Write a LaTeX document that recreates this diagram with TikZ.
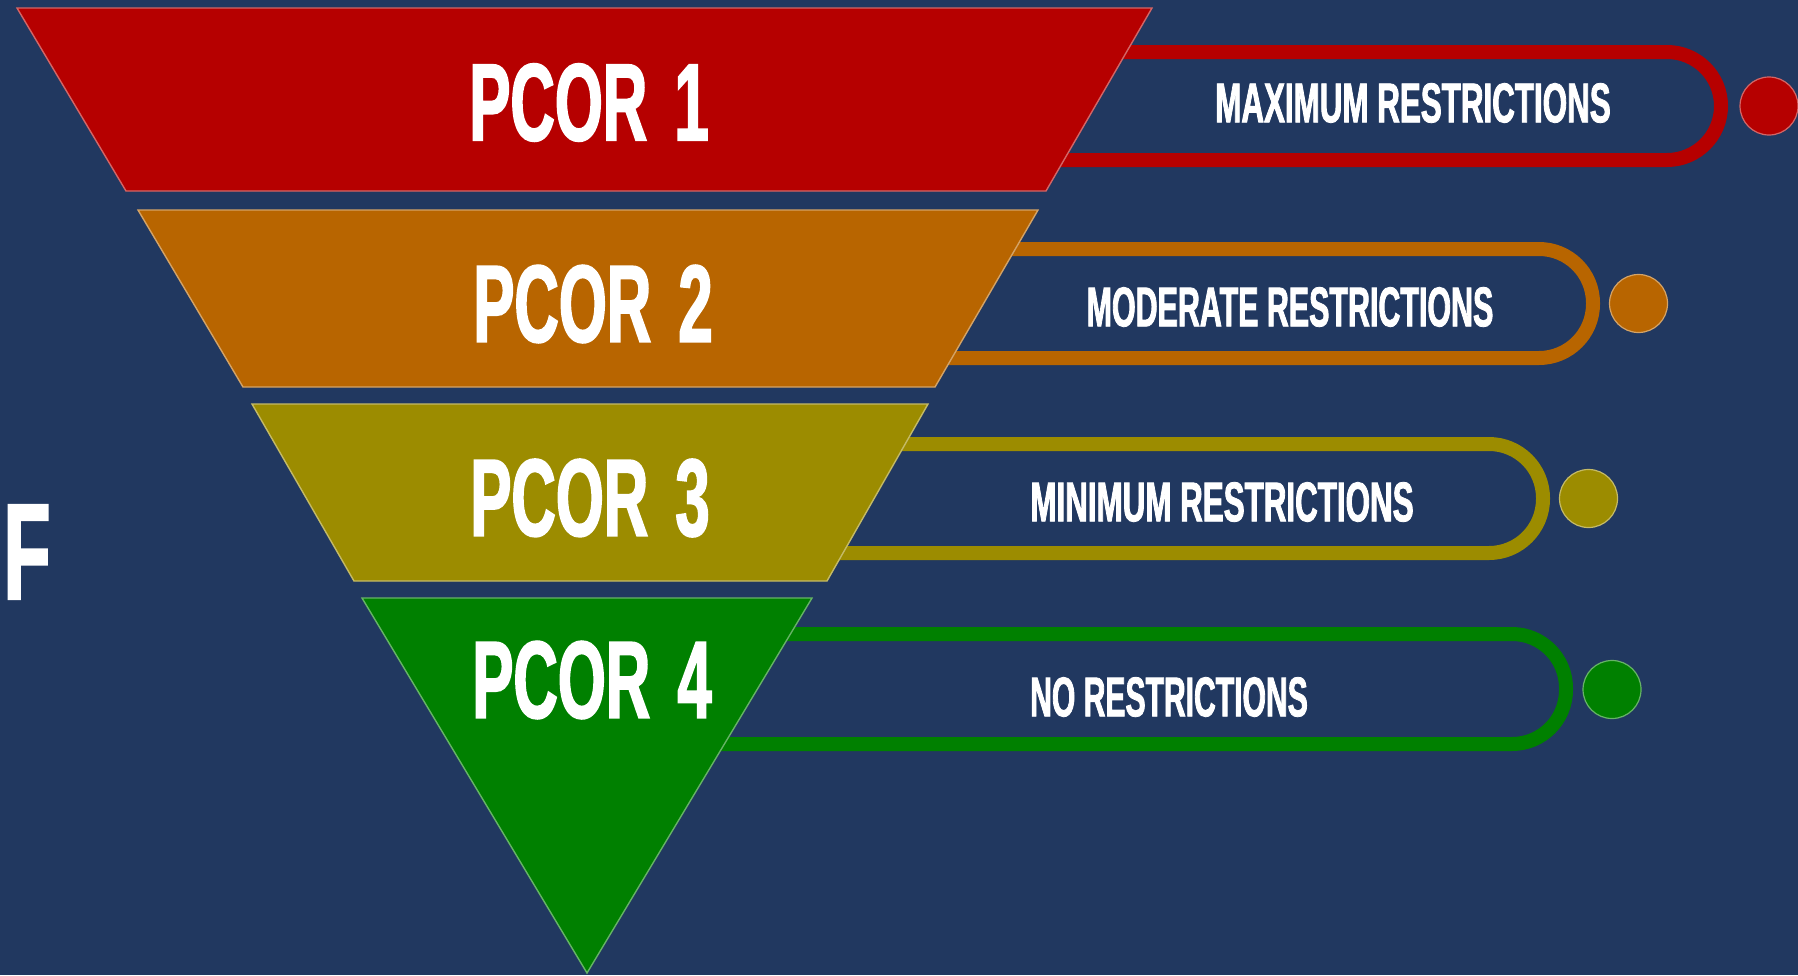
\documentclass[tikz,border=0pt]{standalone}
\usepackage{graphicx}
\usepackage{fontspec}
\newfontfamily\cond[FakeStretch=0.56,FakeBold=1.5]{Liberation Sans Bold}
\definecolor{bg}{RGB}{33,56,96}
\definecolor{cred}{RGB}{182,0,0}
\definecolor{corange}{RGB}{184,101,0}
\definecolor{colive}{RGB}{156,140,0}
\definecolor{cgreen}{RGB}{0,128,0}
\newcommand{\gap}{\ \hspace{5pt}}
\begin{document}
\begin{tikzpicture}[x=0.5pt,y=-0.5pt,
  band/.style={draw=#1, line width=7pt, fill=bg, rounded corners=27pt},
  tier/.style={fill=#1, draw=#1!60!white, line width=0.7pt, line join=miter},
  dot/.style={fill=#1, draw=#1!60!white, line width=0.6pt},
  big/.style={text=white, inner sep=0pt, font=\cond\fontsize{55pt}{55pt}\selectfont},
  lab/.style={text=white, inner sep=0pt, font=\cond\fontsize{28pt}{28pt}\selectfont}]
\useasboundingbox (0,0) rectangle (1798,975);
\fill[bg] (0,0) rectangle (1798,975);

% bands (behind the tiers)
\draw[band=cred]    (590,52)  rectangle (1721,160);
\draw[band=corange] (590,249) rectangle (1593,358);
\draw[band=colive]  (590,444) rectangle (1543,553);
\draw[band=cgreen]  (590,634) rectangle (1566,744);

% dots
\fill[dot=cred]    (1769,106) circle[radius=14.5pt];
\fill[dot=corange] (1638.5,303.5) circle[radius=14.5pt];
\draw[dot=colive]  (1588.5,498.5) circle[radius=14.5pt];
\draw[dot=cgreen]  (1612,689.5) circle[radius=14.5pt];

% tiers
\draw[tier=cred]    (17,8) -- (1152,8) -- (1046,191) -- (126,191) -- cycle;
\draw[tier=corange] (138,210) -- (1038,210) -- (935,387) -- (243,387) -- cycle;
\draw[tier=colive]  (252,404) -- (928,404) -- (827,581) -- (354,581) -- cycle;
\draw[tier=cgreen]  (362,598) -- (812,598) -- (587,973) -- cycle;

% tier titles
\node[big] (p1) at (589,102.5) {PCOR\gap 1};
\node[big] (p2) at (593,304) {PCOR\gap 2};
\node[big] (p3) at (590,498) {PCOR\gap 3};
\node[big] (p4) at (592,680) {PCOR\gap 4};

% band labels
\node[lab] (l1) at (1413,103) {MAXIMUM RESTRICTIONS};
\node[lab] (l2) at (1290,307) {\scalebox{0.97}[1]{MODERATE RESTRICTIONS}};
\node[lab] (l3) at (1222,502) {MINIMUM RESTRICTIONS};
\node[lab] (l4) at (1169,697) {\scalebox{0.96}[1]{NO RESTRICTIONS}};

% stray letter
\node[text=white, inner sep=0pt, font=\cond\fontsize{68.5pt}{68.5pt}\selectfont] (f) at (27,552) {F};
\end{tikzpicture}
\end{document}
